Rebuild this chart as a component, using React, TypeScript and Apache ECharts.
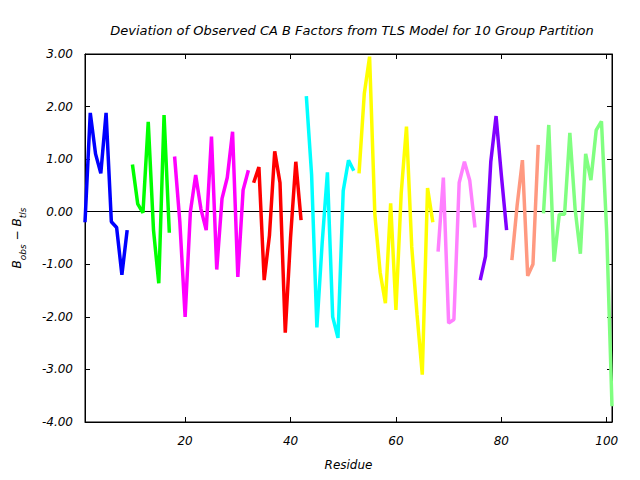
import React, { useEffect, useRef } from "react";
import * as echarts from "echarts";

// Residue groups (first residue of each group) and their B_obs - B_tls values
const groupNames = ["Group 1", "Group 2", "Group 3", "Group 4", "Group 5", "Group 6", "Group 7", "Group 8", "Group 9", "Group 10"];
const groupStarts = [1, 10, 18, 33, 43, 53, 68, 76, 82, 88];
const groupColors = ["#0000ff", "#00ff00", "#ff00ff", "#ff0000", "#00ffff", "#ffff00", "#ff80ff", "#8000ff", "#ff9980", "#80ff80"];

const blueValues = [-0.2, 1.88, 1.1, 0.73, 1.88, -0.19, -0.3, -1.2, -0.35];
const greenValues = [0.9, 0.15, -0.02, 1.71, -0.35, -1.36, 1.84, -0.4];
const magentaValues = [1.05, -0.2, -2.0, 0.0, 0.7, 0.05, -0.35, 1.43, -1.1, 0.25, 0.65, 1.52, -1.24, 0.41, 0.79];
const redValues = [0.55, 0.85, -1.3, -0.45, 1.15, 0.55, -2.3, -0.5, 0.95, -0.16];
const cyanValues = [2.2, 0.7, -2.2, -0.6, 0.75, -2.0, -2.4, 0.4, 0.98, 0.78];
const yellowValues = [0.73, 2.25, 2.95, -0.05, -1.15, -1.74, 0.16, -1.87, 0.35, 1.62, -0.67, -1.95, -3.1, 0.45, -0.2];
const violetValues = [-0.76, 0.65, -2.12, -2.05, 0.55, 0.95, 0.6, -0.3];
const purpleValues = [-1.3, -0.85, 0.95, 1.82, 0.7, -0.35];
const salmonValues = [-0.92, 0.12, 0.98, -1.22, -1.0, 1.27];
const lightGreenValues = [-0.03, 1.65, -0.95, -0.05, -0.05, 1.5, 0.05, -0.8, 1.1, 0.6, 1.55, 1.72, -0.4, -3.7];

const groupValues = [blueValues, greenValues, magentaValues, redValues, cyanValues, yellowValues, violetValues, purpleValues, salmonValues, lightGreenValues];

const xTicks = [20, 40, 60, 80, 100];
const xMin = 1;
const xMax = 101;
const yMin = -4;
const yMax = 3;

const FONT = "DejaVu Sans";

export default function App() {
  const ref = useRef<HTMLDivElement>(null);
  useEffect(() => {
    if (!ref.current) return;
    const chart = echarts.init(ref.current, undefined, { renderer: "svg" });
    const series: any[] = groupValues.map((vals, gi) => ({
      name: groupNames[gi],
      type: "line",
      xAxisIndex: 0,
      yAxisIndex: 0,
      data: vals.map((v, i) => [groupStarts[gi] + i, v]),
      showSymbol: false,
      symbol: "none",
      lineStyle: { color: groupColors[gi], width: 3.5 },
      itemStyle: { color: groupColors[gi] },
      z: 3,
    }));
    series[0].markLine = {
      silent: true,
      symbol: "none",
      label: { show: false },
      lineStyle: { color: "#000", width: 1, type: "solid" },
      data: [{ yAxis: 0 }],
      z: 1,
    };
    const axisCommonText = { fontFamily: FONT, fontStyle: "italic", fontSize: 12, color: "#000" };
    chart.setOption({
      animation: false,
      backgroundColor: "#fff",
      title: {
        text: "Deviation of Observed CA B Factors from TLS Model for 10 Group Partition",
        left: 347,
        top: 19,
        textAlign: "center",
        textStyle: { fontFamily: FONT, fontStyle: "italic", fontWeight: "normal", fontSize: 13, color: "#000" },
      },
      grid: { left: 85, right: 28, top: 54, bottom: 58, show: true, borderColor: "#000", borderWidth: 1, backgroundColor: "transparent" },
      xAxis: [
        {
          type: "value",
          min: xMin,
          max: xMax,
          position: "bottom",
          name: "Residue",
          nameLocation: "middle",
          nameGap: 37,
          nameTextStyle: axisCommonText,
          axisLine: { show: true, onZero: false, lineStyle: { color: "#000", width: 1 } },
          axisTick: { show: true, inside: true, length: 5, customValues: xTicks, lineStyle: { color: "#000" } },
          axisLabel: { show: true, margin: 13, customValues: xTicks, ...axisCommonText },
          splitLine: { show: false },
        },
        {
          type: "value",
          min: xMin,
          max: xMax,
          position: "top",
          axisLine: { show: true, onZero: false, lineStyle: { color: "#000", width: 1 } },
          axisTick: { show: true, inside: true, length: 5, customValues: xTicks, lineStyle: { color: "#000" } },
          axisLabel: { show: false },
          splitLine: { show: false },
        },
      ],
      yAxis: [
        {
          type: "value",
          min: yMin,
          max: yMax,
          interval: 1,
          position: "left",
          name: "{b|B}{s|obs}{b| − }{b|B}{s|tls}",
          nameLocation: "middle",
          nameRotate: 90,
          nameGap: 58,
          nameTextStyle: {
            ...axisCommonText,
            rich: {
              b: { fontFamily: FONT, fontStyle: "italic", fontSize: 12, color: "#000", lineHeight: 16, verticalAlign: "top" },
              s: { fontFamily: FONT, fontStyle: "italic", fontSize: 9, color: "#000", lineHeight: 16, verticalAlign: "bottom", padding: [6, 0, 0, 0] },
            },
          },
          axisLine: { show: true, onZero: false, lineStyle: { color: "#000", width: 1 } },
          axisTick: { show: true, inside: true, length: 5, lineStyle: { color: "#000" } },
          axisLabel: { show: true, margin: 12, formatter: (v: number) => v.toFixed(2), ...axisCommonText },
          splitLine: { show: false },
        },
        {
          type: "value",
          min: yMin,
          max: yMax,
          interval: 1,
          position: "right",
          axisLine: { show: true, onZero: false, lineStyle: { color: "#000", width: 1 } },
          axisTick: { show: true, inside: true, length: 5, lineStyle: { color: "#000" } },
          axisLabel: { show: false },
          splitLine: { show: false },
        },
      ],
      series,
    });
    return () => chart.dispose();
  }, []);
  return (
    <div
      ref={ref}
      style={{ position: "fixed", left: 0, top: 0, width: 640, height: 480, background: "#fff" }}
    />
  );
}
